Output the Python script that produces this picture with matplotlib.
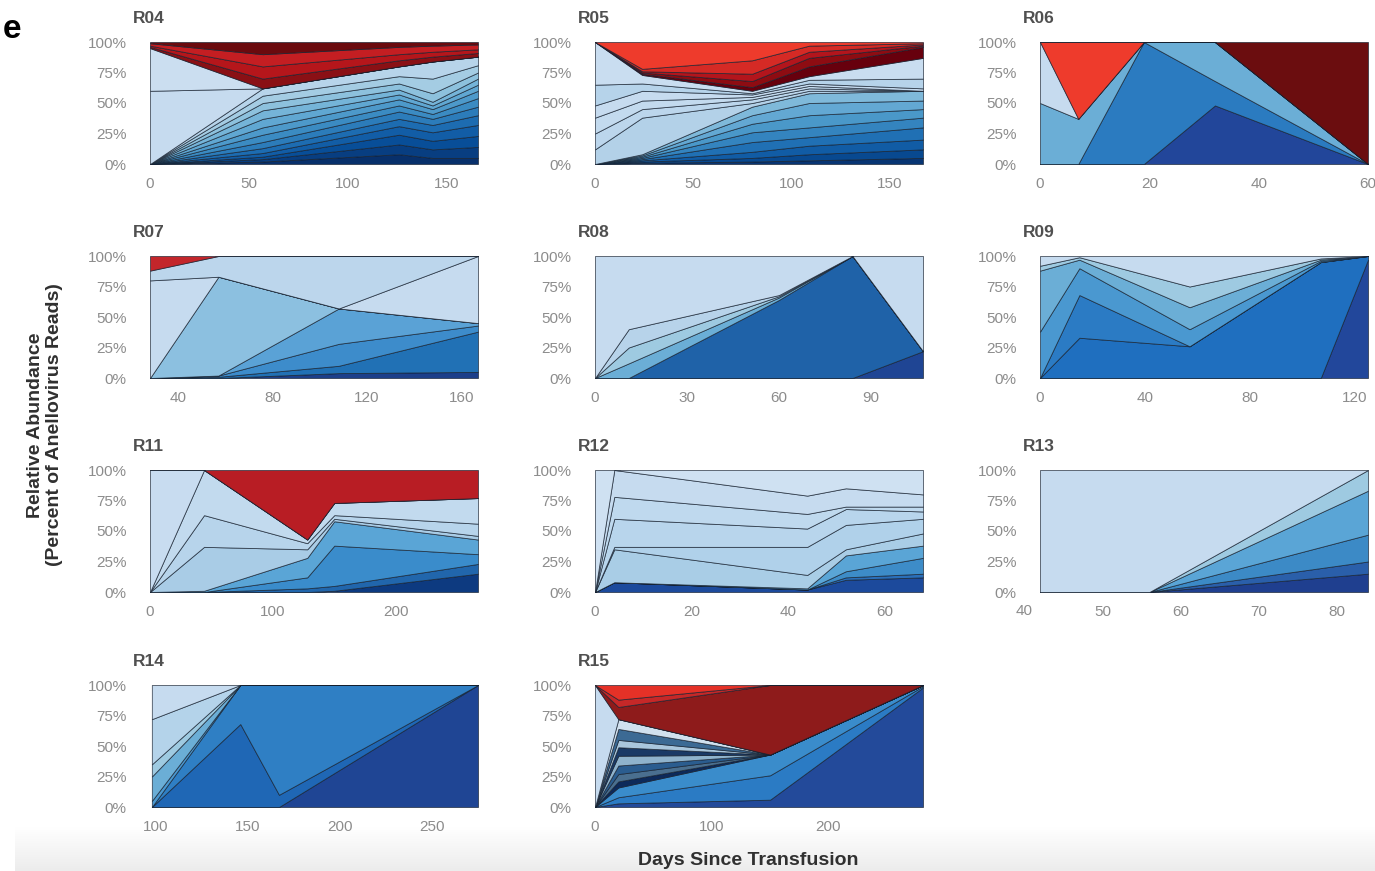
import numpy as np
import matplotlib
matplotlib.use("Agg")
import matplotlib.pyplot as plt
from matplotlib.colors import LinearSegmentedColormap

plt.rcParams['font.family'] = ['Liberation Sans', 'DejaVu Sans']

# ---------------------------------------------------------------
# data: sampling days per recipient and the cumulative top (%) of
# every lineage layer, bottom layer first, last layer always 100
# ---------------------------------------------------------------
r04_days = [0, 57, 126, 143, 166]
r04_tops = [
    [0, 2, 8, 5, 5], [0, 4, 16, 12, 14], [0, 6, 24, 19, 23], [0, 9, 31, 26, 32],
    [0, 13, 37, 32, 40], [0, 18, 43, 37, 47], [0, 24, 48, 41, 54], [0, 30, 53, 45, 60],
    [0, 37, 57, 48, 65], [0, 44, 61, 51, 70], [0, 50, 66, 58, 75], [0, 56, 72, 70, 81],
    [0, 62, 80, 84, 88],
    [60, 62, 80, 84, 88], [95, 62, 80, 84, 88],
    [96, 70, 85, 88, 91], [97, 80, 90, 92, 94], [99, 90, 96, 97, 98], [100, 100, 100, 100, 100],
]

r05_days = [0, 24, 80, 109, 167]
r05_tops = [
    [0, 1, 2, 3, 5], [0, 2, 5, 8, 12], [0, 3, 10, 15, 20], [0, 4, 18, 22, 30],
    [0, 5, 26, 30, 38], [0, 6, 33, 40, 45], [0, 7, 40, 50, 52], [0, 8, 47, 58, 60],
    [12, 38, 50, 60, 60], [25, 45, 53, 62, 60], [38, 52, 55, 64, 60],
    [48, 60, 57, 66, 62], [65, 66, 58, 69, 70], [100, 73, 60, 72, 87],
    [100, 74, 63, 80, 96], [100, 75, 68, 87, 97], [100, 76, 74, 92, 98],
    [100, 78, 85, 97, 99], [100, 100, 100, 100, 100],
]

r06_days = [0, 7, 19, 32, 60]
r06_tops = [
    [0, 0, 0, 48, 0], [0, 0, 100, 68, 0], [50, 37, 100, 100, 0],
    [100, 37, 100, 100, 0], [100, 100, 100, 100, 0], [100, 100, 100, 100, 100],
]

r07_days = [28, 57, 108, 167]
r07_tops = [
    [0, 0, 4, 5], [0, 1, 10, 38], [0, 2, 28, 43], [0, 2, 57, 45],
    [0, 83, 57, 45], [80, 83, 57, 100], [88, 100, 100, 100], [100, 100, 100, 100],
]

r08_days = [0, 11, 60, 84, 107]
r08_tops = [
    [0, 0, 0, 0, 22], [0, 0, 64, 100, 22], [0, 12, 66, 100, 22],
    [0, 25, 67, 100, 22], [0, 40, 68, 100, 22], [100, 100, 100, 100, 100],
]

r09_days = [0, 15, 57, 107, 125]
r09_tops = [
    [0, 0, 0, 0, 97], [0, 33, 26, 95, 100], [0, 68, 26, 95, 100],
    [38, 90, 40, 96, 100], [88, 97, 58, 97, 100], [92, 99, 75, 98, 100],
    [100, 100, 100, 100, 100],
]

r11_days = [0, 44, 128, 150, 267]
r11_tops = [
    [0, 0, 0, 1, 15], [0, 0, 3, 5, 23], [0, 0, 12, 38, 31], [0, 1, 28, 58, 43],
    [0, 37, 35, 60, 46], [0, 63, 40, 63, 56], [0, 100, 43, 73, 77],
    [100, 100, 43, 73, 77], [100, 100, 100, 100, 100],
]

r12_days = [0, 4, 44, 52, 68]
r12_tops = [
    [0, 8, 2, 10, 12], [0, 8, 2, 12, 15], [0, 8, 2, 17, 28], [0, 8, 3, 30, 38],
    [0, 35, 14, 35, 48], [0, 37, 37, 55, 60], [0, 60, 52, 68, 66],
    [0, 78, 64, 70, 70], [0, 100, 79, 85, 80], [100, 100, 100, 100, 100],
]

r13_days = [42, 56, 84]
r13_tops = [
    [0, 0, 15], [0, 0, 25], [0, 0, 47], [0, 0, 83], [0, 0, 100], [100, 100, 100],
]

r14_days = [98, 146, 167, 275]
r14_tops = [
    [0, 0, 0, 100], [0, 68, 10, 100], [0, 100, 100, 100], [5, 100, 100, 100],
    [25, 100, 100, 100], [35, 100, 100, 100], [72, 100, 100, 100], [100, 100, 100, 100],
]

r15_days = [0, 20, 150, 281]
r15_tops = [
    [0, 3, 6, 98], [0, 8, 26, 99], [0, 16, 43, 100],
    [0, 21, 43, 100], [0, 27, 43, 100], [0, 34, 43, 100], [0, 42, 43, 100],
    [0, 49, 43, 100], [0, 55, 43, 100], [0, 64, 43, 100], [0, 72, 43, 100],
    [100, 72, 43, 100], [100, 82, 100, 100], [100, 88, 100, 100], [100, 100, 100, 100],
]

panel_names = ['R04', 'R05', 'R06', 'R07', 'R08', 'R09', 'R11', 'R12', 'R13', 'R14', 'R15']
panel_days = [r04_days, r05_days, r06_days, r07_days, r08_days, r09_days,
              r11_days, r12_days, r13_days, r14_days, r15_days]
panel_tops = [r04_tops, r05_tops, r06_tops, r07_tops, r08_tops, r09_tops,
              r11_tops, r12_tops, r13_tops, r14_tops, r15_tops]
panel_xticks = [[0, 50, 100, 150], [0, 50, 100, 150], [0, 20, 40, 60],
                [40, 80, 120, 160], [0, 30, 60, 90], [0, 40, 80, 120],
                [0, 100, 200], [0, 20, 40, 60], [40, 50, 60, 70, 80],
                [100, 150, 200, 250], [0, 100, 200]]
y_ticks = [0, 25, 50, 75, 100]


# ---------------------------------------------------------------
# styling
# ---------------------------------------------------------------
def blues(n, lo=0.35, hi=0.95):
    return [plt.cm.Blues(v) for v in np.linspace(hi, lo, n)]


panel_colors = [
    blues(13, 0.3, 1.0) + ['#c6dbef', '#cbdef0', '#8a1015', '#b5161b', '#c41e22', '#6b0a0e'],
    blues(8, 0.45, 0.98) + ['#b3d1e8', '#bcd6ec', '#c3daee', '#c6dbef', '#b6d3ea', '#c9ddf0',
                             '#67000d', '#8e0c12', '#b3151c', '#d52a25', '#ee3b2c'],
    ['#22469a', '#2b7bc0', '#6baed6', '#c6dbef', '#ee3b2c', '#6b0d0f'],
    ['#1c3f8a', '#2171b5', '#3d8ccb', '#5aa2d6', '#8cc0e0', '#c6dbef', '#bcd6ec', '#c3262b'],
    ['#1f4594', '#1f62a8', '#6baed6', '#9ecae1', '#b7d3ea', '#c6dbef'],
    ['#22479b', '#1f6fbf', '#2b7bc4', '#4a98d0', '#6baed6', '#9ecae1', '#c6dbef'],
    ['#0d3a80', '#2166ac', '#3a8ccb', '#5aa5d6', '#a9cce6', '#b7d4eb', '#c2daee', '#c8dcf0', '#b81d24'],
    ['#1c4a9c', '#2a6fba', '#3d8cc8', '#5aa5d6', '#a9cde6', '#b0d1ea', '#b8d5ec', '#bfd9ee',
     '#c6dbef', '#cfe1f2'],
    ['#1f3f8f', '#2a5faa', '#3c8ac6', '#5aa5d6', '#9ecae1', '#c6dbef'],
    ['#1f4594', '#1f67b5', '#2f7fc4', '#4a98d0', '#6baed6', '#9ecae1', '#b4d3ea', '#c6dbef'],
    ['#234a9a', '#2b7bc4', '#3a8ccb', '#0d2a5a', '#4a6f8f', '#2b5d8f', '#8fb3cc', '#1a3a66',
     '#a9c6dc', '#3c6a94', '#d0e0ee', '#c6dbef', '#8e1b1b', '#c62828', '#e53127'],
]

panel_xlims = [(0, 166), (0, 167), (0, 60), (28, 167), (0, 107), (0, 125),
               (0, 267), (0, 68), (42, 84), (97, 275), (0, 281)]

W, H = 1375, 871
col_left = [150, 595, 1040]
row_top = [42, 256, 470, 685]
ax_w, ax_h = 328, 122
edge = (0.08, 0.12, 0.18, 0.75)
tick_grey = '#8c8c8c'

fig = plt.figure(figsize=(W / 100, H / 100), dpi=100)

# faint grey band along the bottom of the figure
band = fig.add_axes([15 / W, 0, 1 - 15 / W, 44 / H], zorder=-5)
grad = np.linspace(0, 1, 60).reshape(-1, 1)
band.imshow(grad, aspect='auto', origin='upper',
            cmap=LinearSegmentedColormap.from_list('band', ['#ffffff', '#ececec']),
            extent=[0, 1, 0, 1])
band.axis('off')

for i, name in enumerate(panel_names):
    r, c = divmod(i, 3)
    ax = fig.add_axes([col_left[c] / W, 1 - (row_top[r] + ax_h) / H, ax_w / W, ax_h / H])

    days = np.array(panel_days[i], dtype=float)
    tops = np.array(panel_tops[i], dtype=float)
    layers = np.diff(np.vstack([np.zeros(len(days)), tops]), axis=0)
    ax.stackplot(days, layers, colors=panel_colors[i], edgecolor=edge, linewidth=0.6)

    ax.set_xlim(*panel_xlims[i])
    ax.set_ylim(0, 100)
    for s in ax.spines.values():
        s.set_visible(False)

    ax.set_yticks(y_ticks)
    ax.set_yticklabels([f'{v}%' for v in y_ticks])
    ax.set_xticks([t for t in panel_xticks[i] if panel_xlims[i][0] <= t <= panel_xlims[i][1] + 1])
    ax.tick_params(axis='both', length=0, labelsize=11, labelcolor=tick_grey)
    ax.tick_params(axis='y', pad=17)
    ax.tick_params(axis='x', pad=9)
    # tick labels that fall just outside the shaded range
    for t in panel_xticks[i]:
        if t < panel_xlims[i][0]:
            ax.text(t, -0.0, str(t), transform=ax.get_xaxis_transform(), ha='center', va='top',
                    fontsize=11, color=tick_grey, clip_on=False,
                    bbox=None).set_y(-0.1)

    ax.text(-17 / ax_w, 1 + 19 / ax_h, name, transform=ax.transAxes, ha='left', va='baseline',
            fontsize=12.5, fontweight='bold', color='#505050')

fig.text(45 / W, 1 - 425 / H, 'Relative Abundance\n(Percent of Anellovirus Reads)',
         rotation=90, ha='center', va='center', fontsize=14, fontweight='bold',
         color='#303030', linespacing=1.1)
fig.text(748 / W, 1 - 860 / H, 'Days Since Transfusion', ha='center', va='center',
         fontsize=14, fontweight='bold', color='#303030')
fig.text(3 / W, 1 - 30 / H, 'e', ha='left', va='center', fontsize=24, fontweight='bold',
         color='black')

fig.savefig('out.png', dpi=100)
